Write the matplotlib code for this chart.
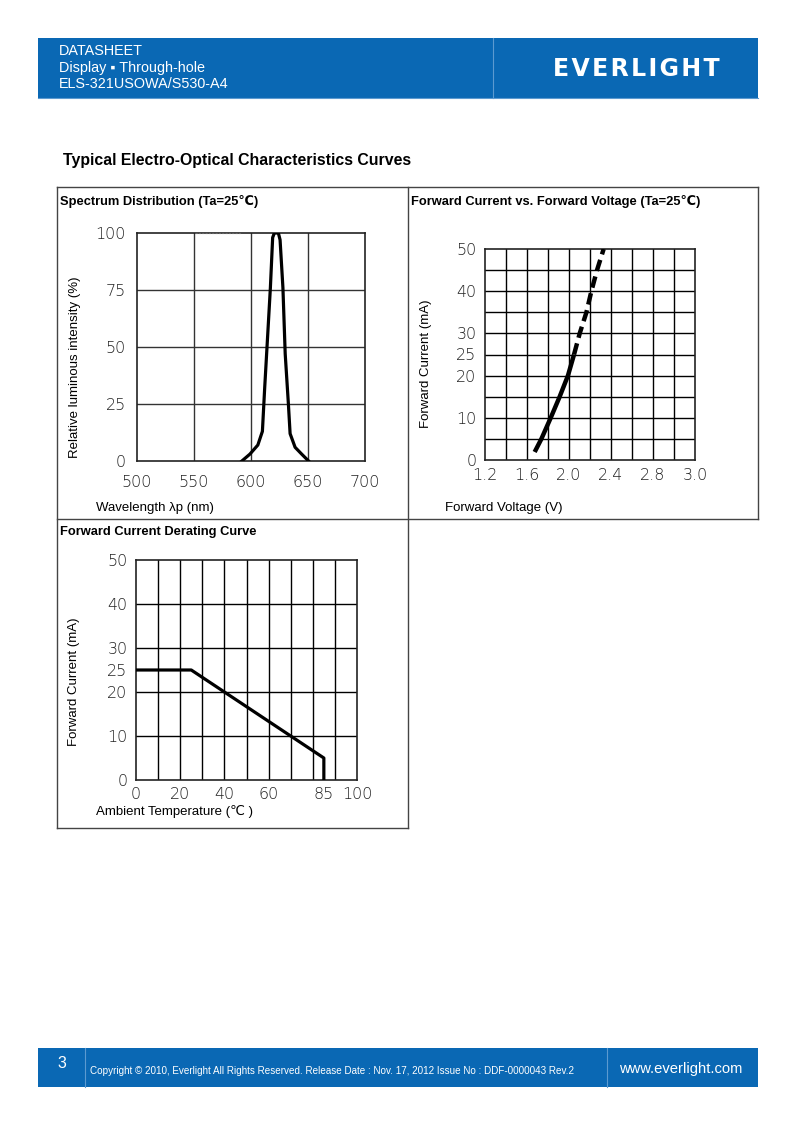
import matplotlib
matplotlib.use("Agg")
import matplotlib.pyplot as plt

plt.rcParams['font.family'] = ['Liberation Sans', 'DejaVu Sans']

# ---- data ----
# spectrum distribution
spec_nm = [592, 599, 606, 610, 612, 614.5, 617, 619, 620.5, 624, 625.5, 628, 630, 632.8, 634.3, 638.7, 644.5, 650.5]
spec_rel = [0, 3, 7, 13, 32, 54, 76, 98, 100, 100, 97, 76, 47, 25, 12, 6, 3, 0]
spec_xticks = [500, 550, 600, 650, 700]
spec_yticks = [0, 25, 50, 75, 100]
spec_top_dash = [551, 591]

# forward current vs forward voltage
fv_solid_v = [1.673, 1.737, 1.826, 1.911, 1.99, 2.048]
fv_solid_i = [1.9, 5, 10, 15, 20, 25]
fv_dash_v = [2.048, 2.102, 2.166, 2.213, 2.267, 2.33]
fv_dash_i = [25, 30, 35, 40, 45, 50]
fv_xgrid = [1.4, 1.6, 1.8, 2.0, 2.2, 2.4, 2.6, 2.8, 3.0]
fv_ygrid = [5, 10, 15, 20, 25, 30, 35, 40, 45]
fv_xticks = [1.2, 1.6, 2.0, 2.4, 2.8, 3.2]
fv_xlabels = ['1.2', '1.6', '2.0', '2.4', '2.8', '3.0']
fv_yticks = [0, 10, 20, 25, 30, 40, 50]

# derating curve
der_t = [0, 25, 85, 85]
der_i = [25, 25, 5, 0]
der_xgrid = [10, 20, 30, 40, 50, 60, 70, 80, 90]
der_ygrid = [10, 20, 30, 40]
der_xticks = [0, 20, 40, 60, 85, 100]
der_yticks = [0, 10, 20, 25, 30, 40, 50]

W, H = 793, 1123
BLUE = '#0a68b4'
fig = plt.figure(figsize=(W / 100, H / 100), dpi=100)

# page overlay in pixel coordinates
pg = fig.add_axes([0, 0, 1, 1])
pg.set_xlim(0, W)
pg.set_ylim(H, 0)
pg.axis('off')

# header band
pg.add_patch(plt.Rectangle((38, 38), 720, 60, color=BLUE, lw=0))
pg.plot([493, 493], [38, 98], color='#5c9ad0', lw=0.8)
pg.plot([38, 758], [97.5, 97.5], color='#5c9ad0', lw=0.8)
for y, s in [(51, 'DATASHEET'), (68, 'Display \u25aa Through-hole'), (84, 'ELS-321USOWA/S530-A4')]:
    pg.text(59, y, s, color='white', fontsize=10.4, va='center', ha='left')
pg.text(636, 69, '\u200a'.join('EVERLIGHT'), color='white', fontsize=17, fontweight='heavy',
        family=['DejaVu Sans'], va='center', ha='center')

# footer band
pg.add_patch(plt.Rectangle((38, 1048), 720, 39, color=BLUE, lw=0))
pg.plot([85, 85], [1048, 1087], color='#5c9ad0', lw=0.8)
pg.plot([607, 607], [1048, 1087], color='#5c9ad0', lw=0.8)
pg.text(62, 1063, '3', color='white', fontsize=11.5, va='center', ha='center')
pg.text(90, 1071, 'Copyright \u00a9 2010, Everlight All Rights Reserved. Release Date : Nov. 17, 2012 Issue No : DDF-0000043 Rev.2',
        color='white', fontsize=7.1, va='center', ha='left')
pg.text(681, 1069, 'www.everlight.com', color='white', fontsize=10.6, va='center', ha='center')

# section title
pg.text(63, 160, 'Typical Electro-Optical Characteristics Curves', fontsize=11.4,
        fontweight='bold', va='center', ha='left')

# table frame
fc = '#444444'
pg.plot([57, 758], [187, 187], color=fc, lw=1)
pg.plot([57, 758], [519, 519], color=fc, lw=1)
pg.plot([57, 408], [828, 828], color=fc, lw=1)
pg.plot([57, 57], [187, 828], color=fc, lw=1)
pg.plot([408, 408], [187, 828], color=fc, lw=1)
pg.plot([758, 758], [187, 519], color=fc, lw=1)

# cell titles and axis labels
pg.text(60, 202, 'Spectrum Distribution (Ta=25\u2103)', fontsize=9.3, fontweight='bold', va='center')
pg.text(411, 202, 'Forward Current vs. Forward Voltage (Ta=25\u2103)', fontsize=9.3, fontweight='bold', va='center')
pg.text(60, 532, 'Forward Current Derating Curve', fontsize=9.3, fontweight='bold', va='center')
pg.text(96, 508, 'Wavelength \u03bbp (nm)', fontsize=9.5, va='center')
pg.text(445, 508, 'Forward Voltage (V)', fontsize=9.5, va='center')
pg.text(96, 812, 'Ambient Temperature (\u2103 )', fontsize=9.5, va='center')
pg.text(75, 367, 'Relative luminous intensity (%)', fontsize=9.5, rotation=90, va='center', ha='center')
pg.text(426, 364, 'Forward Current (mA)', fontsize=9.5, rotation=90, va='center', ha='center')
pg.text(74, 682, 'Forward Current (mA)', fontsize=9.5, rotation=90, va='center', ha='center')


def make_ax(left, top, right, bottom):
    return fig.add_axes([left / W, 1 - bottom / H, (right - left) / W, (bottom - top) / H])


def style(ax, xgrid, ygrid, gc):
    for v in xgrid:
        ax.axvline(v, color=gc, lw=1, zorder=1)
    for v in ygrid:
        ax.axhline(v, color=gc, lw=1, zorder=1)
    for s in ax.spines.values():
        s.set_linewidth(1.2)
        s.set_color('#222222')
    ax.tick_params(length=0, labelsize=11.5, colors='#222222')
    for lab in ax.get_xticklabels() + ax.get_yticklabels():
        lab.set_family(['DejaVu Sans'])
        lab.set_fontweight('light')


# spectrum
ax1 = make_ax(137, 233, 365, 461)
ax1.plot(spec_nm, spec_rel, color='black', lw=2.3, zorder=3, solid_joinstyle='round')
ax1.plot(spec_top_dash, [100, 100], color='#666666', lw=0.8, ls=(0, (2, 1)), zorder=3, clip_on=False)
ax1.set_xlim(500, 700)
ax1.set_ylim(0, 100)
ax1.set_xticks(spec_xticks)
ax1.set_yticks(spec_yticks)
style(ax1, [550, 600, 650], [25, 50, 75], '#333333')
ax1.tick_params(axis='x', pad=10)
ax1.tick_params(axis='y', pad=8)

# forward current vs voltage
ax2 = make_ax(485, 249, 695, 460)
ax2.plot(fv_solid_v, fv_solid_i, color='black', lw=3.2, zorder=3,
         solid_capstyle='butt', solid_joinstyle='round')
ax2.plot(fv_dash_v, fv_dash_i, color='black', lw=3.2, ls=(0, (2.6, 1.3)), zorder=3)
ax2.set_xlim(1.2, 3.2)
ax2.set_ylim(0, 50)
ax2.set_xticks(fv_xticks)
ax2.set_xticklabels(fv_xlabels)
ax2.set_yticks(fv_yticks)
style(ax2, fv_xgrid, fv_ygrid, 'black')
ax2.tick_params(axis='x', pad=6)
ax2.tick_params(axis='y', pad=6)

# derating
ax3 = make_ax(136, 560, 357, 780)
ax3.plot(der_t, der_i, color='black', lw=2.3, zorder=3)
ax3.set_xlim(0, 100)
ax3.set_ylim(0, 50)
ax3.set_xticks(der_xticks)
ax3.set_yticks(der_yticks)
style(ax3, der_xgrid, der_ygrid, 'black')
ax3.tick_params(axis='x', pad=5)
ax3.tick_params(axis='y', pad=6)

fig.savefig('out.png', dpi=100)
